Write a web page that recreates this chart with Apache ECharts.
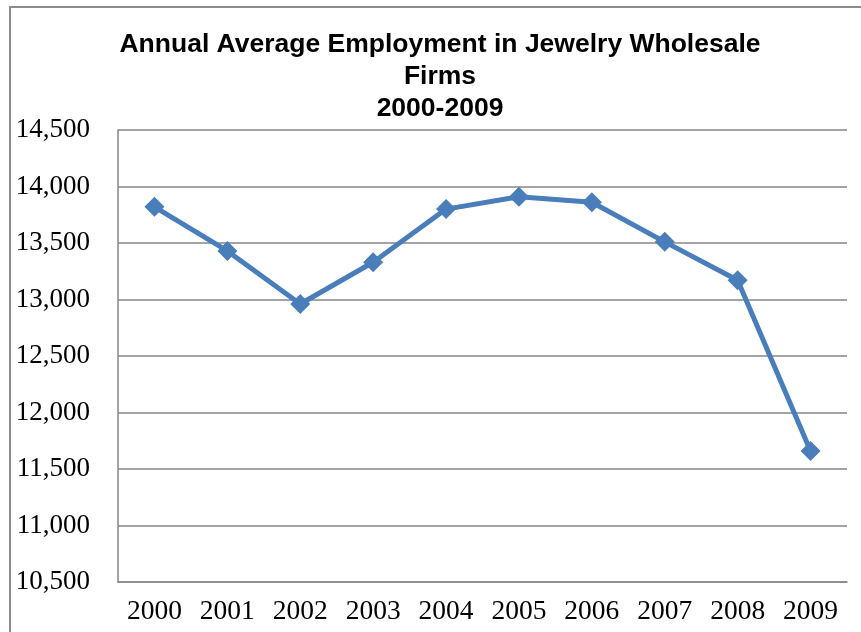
<!DOCTYPE html>
<html>
<head>
<meta charset="utf-8">
<script src="https://cdn.jsdelivr.net/npm/echarts@6/dist/echarts.min.js"></script>
<style>
  html, body { margin: 0; padding: 0; background: #fff; }
  #chart { width: 861px; height: 632px; }
</style>
</head>
<body>
<div id="chart"></div>
<script>
const years = ["2000", "2001", "2002", "2003", "2004", "2005", "2006", "2007", "2008", "2009"];
const employment = [13820, 13430, 12960, 13330, 13800, 13910, 13860, 13510, 13170, 11660];
const yMin = 10500;
const yMax = 14500;
const yStep = 500;

const chart = echarts.init(document.getElementById("chart"));

const options = {
  animation: false,
  graphic: [
    {
      // chart area border
      type: "rect",
      shape: { x: 10, y: 7, width: 900, height: 700 },
      style: { fill: "none", stroke: "#8c8c8c", lineWidth: 2 },
      silent: true,
    },
    {
      type: "text",
      x: 440,
      y: 29,
      style: {
        text: "Annual Average Employment in Jewelry Wholesale\nFirms\n2000-2009",
        fontFamily: "Liberation Sans",
        fontWeight: "bold",
        fontSize: 26.5,
        lineHeight: 32,
        fill: "#000",
        align: "center",
        verticalAlign: "top",
      },
    },
  ],
  grid: { left: 118, right: 14, top: 130, bottom: 50, containLabel: false },
  xAxis: {
    type: "category",
    data: years,
    boundaryGap: true,
    axisLine: { lineStyle: { color: "#868686", width: 1.5 } },
    axisTick: { show: false },
    axisLabel: {
      margin: 16,
      fontFamily: "Liberation Serif",
      fontSize: 27.5,
      color: "#000",
    },
  },
  yAxis: {
    type: "value",
    min: yMin,
    max: yMax,
    interval: yStep,
    axisLine: { show: true, lineStyle: { color: "#868686", width: 1.5 } },
    axisTick: { show: false },
    splitLine: { lineStyle: { color: "#868686", width: 1.5 } },
    axisLabel: {
      margin: 28,
      fontFamily: "Liberation Serif",
      fontSize: 27,
      color: "#000",
      formatter: (v) => v.toLocaleString("en-US"),
    },
  },
  series: [
    {
      name: "Employment",
      type: "line",
      data: employment,
      symbol: "diamond",
      symbolSize: 20,
      lineStyle: { color: "#4a7ebb", width: 5 },
      itemStyle: { color: "#4a7ebb" },
    },
  ],
};

chart.setOption(options);
</script>
</body>
</html>
